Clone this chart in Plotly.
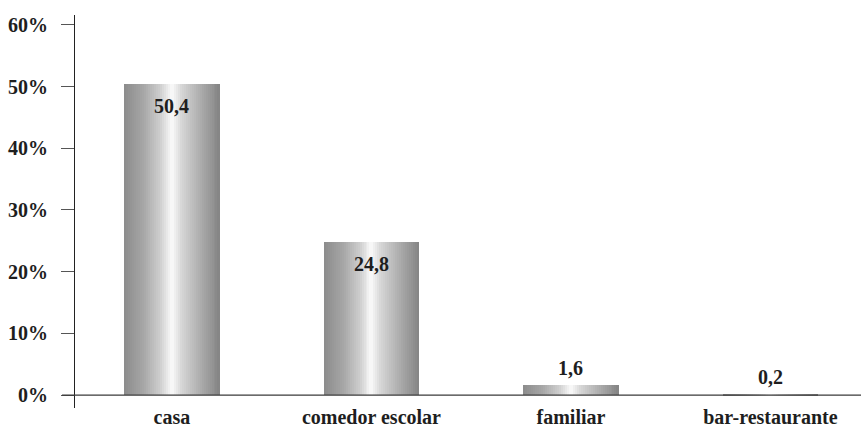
import plotly.graph_objects as go

# Data
categories = ["casa", "comedor escolar", "familiar", "bar-restaurante"]
values = [50.4, 24.8, 1.6, 0.2]
y_ticks = [0, 10, 20, 30, 40, 50, 60]
y_tick_labels = ["0%", "10%", "20%", "30%", "40%", "50%", "60%"]

FONT = "Liberation Serif"
BAR_WIDTH = 0.476
N_STRIPS = 48

# metallic horizontal shading across each bar: (position, grey level)
shade_stops = [(0.0, 0x8c), (0.2, 0xa6), (0.38, 0xcf), (0.5, 0xfb),
               (0.6, 0xd6), (0.78, 0xb0), (1.0, 0x84)]


def grey_at(t):
    for (t0, g0), (t1, g1) in zip(shade_stops[:-1], shade_stops[1:]):
        if t0 <= t <= t1:
            g = g0 + (g1 - g0) * (t - t0) / (t1 - t0)
            g = int(round(g))
            return f"rgb({g},{g},{g})"
    g = shade_stops[-1][1]
    return f"rgb({g},{g},{g})"


x_pos = list(range(len(categories)))
fig = go.Figure()
strip_w = BAR_WIDTH / N_STRIPS
for k in range(N_STRIPS):
    t = (k + 0.5) / N_STRIPS
    fig.add_trace(go.Bar(
        x=x_pos, y=values,
        width=strip_w * 1.15,
        offset=-BAR_WIDTH / 2 + k * strip_w,
        marker=dict(color=grey_at(t), line=dict(width=0)),
        hoverinfo="skip", showlegend=False,
    ))

# value labels: inside near the top for tall bars, above for short ones
for xi, v in zip(x_pos, values):
    txt = f"{v:.1f}".replace(".", ",")
    inside = v > 10
    fig.add_annotation(
        x=xi, y=v, text=f"<b>{txt}</b>", showarrow=False,
        yanchor="top" if inside else "bottom",
        yshift=-9 if inside else 4,
        font=dict(family=FONT, size=20, color="#1e1e1e"),
    )

# baseline at 0%
fig.add_shape(type="line", xref="paper", yref="y", x0=-0.0165, x1=1,
              y0=0, y1=0, line=dict(color="#3a3a3a", width=1.2), layer="above")

fig.update_layout(
    width=861, height=430,
    margin=dict(l=75, r=0, t=15, b=22),
    paper_bgcolor="white", plot_bgcolor="white",
    barmode="overlay", bargap=0,
    font=dict(family=FONT),
    xaxis=dict(
        range=[-0.486, 3.454],
        tickvals=x_pos,
        ticktext=[f"<b>{c}</b>" for c in categories],
        showgrid=False, zeroline=False, showline=False, ticks="",
        tickfont=dict(family=FONT, size=20, color="#1e1e1e"),
        ticklabelstandoff=-5, automargin=False,
    ),
    yaxis=dict(
        range=[-2.1, 61.6],
        tickvals=y_ticks,
        ticktext=[f"<b>{t}</b>" for t in y_tick_labels],
        showgrid=False, zeroline=False,
        showline=True, linecolor="#222", linewidth=1.2,
        ticks="outside", ticklen=13, tickcolor="#555", tickwidth=1.2,
        tickfont=dict(family=FONT, size=20, color="#1e1e1e"),
        ticklabelstandoff=9, automargin=False,
    ),
)

fig.write_html("out.html")
